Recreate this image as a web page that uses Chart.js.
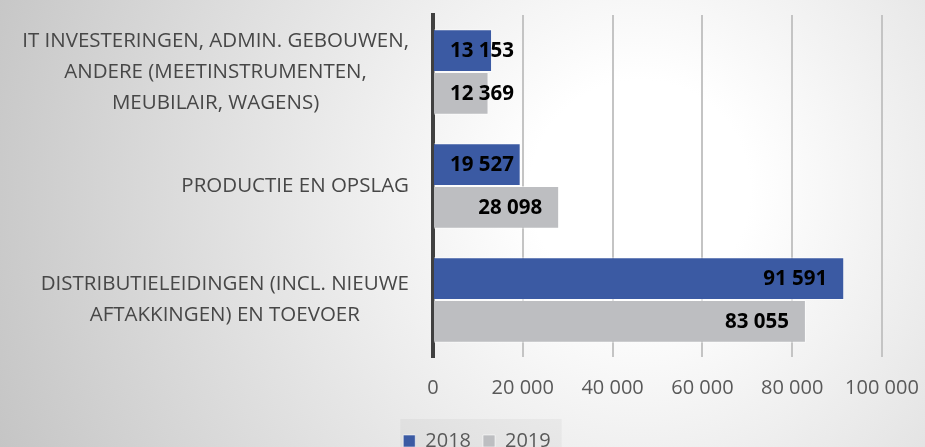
<!DOCTYPE html>
<html>
<head>
<meta charset="utf-8">
<script src="https://cdn.jsdelivr.net/npm/chart.js@4"></script>
<style>
    html, body { margin: 0; padding: 0; }
    body {
        width: 925px; height: 447px; overflow: hidden;
        background: radial-gradient(circle at 640px 190px, #ffffff 0px, #ffffff 110px, #c2c2c2 720px);
    }
    #chartWrap { position: relative; width: 925px; height: 447px; }
</style>
</head>
<body>
<div id="chartWrap"><canvas id="chartCanvas"></canvas></div>
<script>
var categorieen = [
    ["IT INVESTERINGEN, ADMIN. GEBOUWEN,", "ANDERE (MEETINSTRUMENTEN,", "MEUBILAIR, WAGENS)"],
    ["PRODUCTIE EN OPSLAG"],
    ["DISTRIBUTIELEIDINGEN (INCL. NIEUWE", "AFTAKKINGEN) EN TOEVOER"]
];
var jaren = ["2018", "2019"];
var waarden2018 = [13153, 19527, 91591];
var waarden2019 = [12369, 28098, 83055];
var kleuren = ["#3b5aa3", "#bdbec1"];

var labelFont = "20.5px 'Open Sans'";

function formatGetal(v) {
    return String(v).replace(/\B(?=(\d{3})+(?!\d))/g, " ");
}

// waarden in de balken, rechts uitgelijnd; als de balk te kort is, na de basis
var labelPlugin = {
    id: "balkLabels",
    afterDatasetsDraw: function (chart) {
        var ctx = chart.ctx;
        ctx.save();
        ctx.font = "bold 20.5px 'Open Sans'";
        ctx.fillStyle = "#000000";
        ctx.textAlign = "right";
        ctx.textBaseline = "middle";
        chart.data.datasets.forEach(function (ds, i) {
            var meta = chart.getDatasetMeta(i);
            meta.data.forEach(function (bar, j) {
                var tekst = formatGetal(ds.data[j]);
                var w = ctx.measureText(tekst).width;
                var x = Math.max(bar.x - 17, bar.base + 16 + w);
                ctx.fillText(tekst, x, bar.y + 1);
            });
        });
        ctx.restore();
    }
};

// categorie-blokken rechts uitlijnen, regels binnen een blok gecentreerd
var categoriePlugin = {
    id: "categorieUitlijning",
    beforeDraw: function (chart) {
        var schaal = chart.scales.y;
        var items = schaal.getLabelItems();
        var ctx = chart.ctx;
        var rechts = schaal.right - schaal.options.ticks.padding;
        ctx.save();
        ctx.font = labelFont;
        items.forEach(function (item) {
            var regels = Array.isArray(item.label) ? item.label : [item.label];
            var breed = 0;
            regels.forEach(function (r) { breed = Math.max(breed, ctx.measureText(r).width); });
            item.options.textAlign = "center";
            item.options.translation[0] = rechts - breed / 2;
        });
        ctx.restore();
    }
};

// legende wat naar rechts schuiven + licht grijs vlak erachter
var legendePlugin = {
    id: "legendeVlak",
    afterLayout: function (chart) {
        var lg = chart.legend;
        lg.left += 34;
        lg.right += 34;
        lg.legendHitBoxes.forEach(function (b) { b.left += 34; });
    },
    beforeDraw: function (chart) {
        var boxes = chart.legend && chart.legend.legendHitBoxes;
        if (!boxes || !boxes.length) return;
        var eerste = boxes[0], laatste = boxes[boxes.length - 1];
        var ctx = chart.ctx;
        ctx.save();
        ctx.fillStyle = "rgba(0,0,0,0.035)";
        ctx.fillRect(eerste.left - 3, eerste.top - 12, laatste.left + laatste.width - eerste.left + 14, 60);
        ctx.restore();
    }
};

var ctx = document.getElementById("chartCanvas");
var myChart = new Chart(ctx, {
    type: "bar",
    data: {
        labels: categorieen,
        datasets: [{
            label: jaren[0],
            data: waarden2018,
            backgroundColor: kleuren[0],
            borderColor: "rgba(255,255,255,0.55)",
            borderWidth: 1
        }, {
            label: jaren[1],
            data: waarden2019,
            backgroundColor: kleuren[1],
            borderColor: "rgba(255,255,255,0.55)",
            borderWidth: 1
        }]
    },
    options: {
        indexAxis: "y",
        responsive: true,
        maintainAspectRatio: false,
        animation: false,
        categoryPercentage: 0.75,
        barPercentage: 1,
        layout: { padding: { top: 15, left: 4, right: 43, bottom: -14 } },
        scales: {
            x: {
                min: 0,
                max: 100000,
                ticks: {
                    stepSize: 20000,
                    padding: 19,
                    color: "#595959",
                    font: { family: "'Open Sans'", size: 20 },
                    callback: function (v) { return formatGetal(v); }
                },
                grid: { color: "#c4c4c4", lineWidth: 2, drawTicks: false },
                border: { display: false },
                afterFit: function (scale) {
                    scale.paddingLeft = 0;
                    scale.paddingRight = 0;
                }
            },
            y: {
                ticks: {
                    padding: 24,
                    crossAlign: "center",
                    color: "#474747",
                    font: { family: "'Open Sans'", size: 20.5, lineHeight: 1.51 }
                },
                grid: { display: false, drawTicks: false },
                border: { display: true, color: "#404040", width: 4 },
                afterFit: function (scale) {
                    scale.width = 433 - 4;
                    scale.paddingTop = 0;
                    scale.paddingBottom = 0;
                }
            }
        },
        plugins: {
            legend: {
                position: "bottom",
                labels: {
                    boxWidth: 12,
                    boxHeight: 12,
                    padding: 12,
                    color: "#595959",
                    font: { family: "'Open Sans'", size: 20 }
                }
            },
            tooltip: { enabled: false }
        }
    },
    plugins: [labelPlugin, categoriePlugin, legendePlugin]
});
</script>
</body>
</html>
